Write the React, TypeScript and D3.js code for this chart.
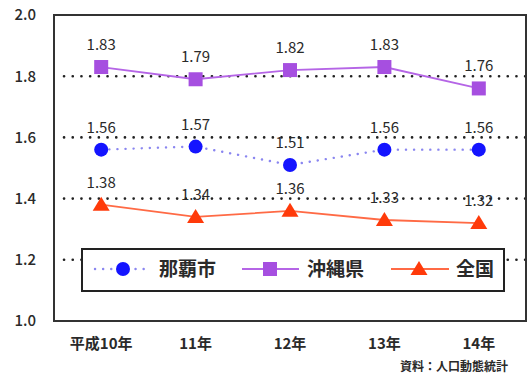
import React, { useRef, useEffect } from "react";
import * as d3 from "d3";

const years = ["平成10年", "11年", "12年", "13年", "14年"];
const naha = [1.56, 1.57, 1.51, 1.56, 1.56];
const okinawa = [1.83, 1.79, 1.82, 1.83, 1.76];
const zenkoku = [1.38, 1.34, 1.36, 1.33, 1.32];
const yTicks = [1.0, 1.2, 1.4, 1.6, 1.8, 2.0];
const gridValues = [1.2, 1.4, 1.6, 1.8];

const FONT = "'Noto Sans CJK JP', 'Noto Sans', sans-serif";
const TEXT = "#2a2a2a";

export default function App() {
  const ref = useRef<SVGSVGElement>(null);

  useEffect(() => {
    const svg = d3.select(ref.current);
    svg.selectAll("*").remove();

    const left = 54, right = 526, top = 15, bottom = 321;

    const x = d3.scalePoint<string>().domain(years).range([left, right]).padding(0.5);
    const y = d3.scaleLinear().domain([1.0, 2.0]).range([bottom, top]);

    // background
    svg.append("rect").attr("width", 528).attr("height", 376).attr("fill", "#fff");

    // gridlines (dotted)
    svg
      .selectAll("line.grid")
      .data(gridValues)
      .enter()
      .append("line")
      .attr("x1", left + 10)
      .attr("x2", right)
      .attr("y1", (d) => y(d))
      .attr("y2", (d) => y(d))
      .attr("stroke", "#222")
      .attr("stroke-width", 2.6)
      .attr("stroke-linecap", "round")
      .attr("stroke-dasharray", "0.1,8.6");

    // frame
    svg
      .append("rect")
      .attr("x", left)
      .attr("y", top)
      .attr("width", right - left)
      .attr("height", bottom - top)
      .attr("fill", "none")
      .attr("stroke", "#333")
      .attr("stroke-width", 2);

    // y labels
    svg
      .selectAll("text.ytick")
      .data(yTicks)
      .enter()
      .append("text")
      .attr("x", 36)
      .attr("y", (d) => y(d))
      .attr("dy", "0.36em")
      .attr("text-anchor", "end")
      .attr("font-family", FONT)
      .attr("font-size", 15)
      .attr("font-weight", 500)
      .attr("fill", TEXT)
      .text((d) => d.toFixed(1));

    // x labels
    svg
      .selectAll("text.xtick")
      .data(years)
      .enter()
      .append("text")
      .attr("x", (d) => x(d)!)
      .attr("y", 349)
      .attr("text-anchor", "middle")
      .attr("font-family", FONT)
      .attr("font-size", 15)
      .attr("font-weight", 700)
      .attr("fill", TEXT)
      .text((d) => d);

    svg
      .append("text")
      .attr("x", 508)
      .attr("y", 371)
      .attr("text-anchor", "end")
      .attr("font-family", FONT)
      .attr("font-size", 12)
      .attr("font-weight", 700)
      .attr("fill", TEXT)
      .text("資料：人口動態統計");

    const line = d3
      .line<number>()
      .x((_, i) => x(years[i])!)
      .y((d) => y(d));

    const series = [
      { name: "那覇市", values: naha, line: "#8a86f0", marker: "#1414ff", dash: "0.1,8", width: 2.4, shape: "circle" },
      { name: "沖縄県", values: okinawa, line: "#b565e6", marker: "#a64fe0", dash: null, width: 1.8, shape: "square" },
      { name: "全国", values: zenkoku, line: "#ff6a45", marker: "#ff3a0a", dash: null, width: 1.8, shape: "triangle" },
    ];

    const drawMarker = (g: any, shape: string, cx: number, cy: number, color: string) => {
      if (shape === "circle") {
        g.append("circle").attr("cx", cx).attr("cy", cy).attr("r", 7).attr("fill", color);
      } else if (shape === "square") {
        g.append("rect").attr("x", cx - 7).attr("y", cy - 7).attr("width", 14).attr("height", 14).attr("fill", color);
      } else {
        g.append("path")
          .attr("d", `M${cx},${cy - 8}L${cx + 8.5},${cy + 6}L${cx - 8.5},${cy + 6}Z`)
          .attr("fill", color);
      }
    };

    series.forEach((s) => {
      const g = svg.append("g");
      g.append("path")
        .attr("d", line(s.values))
        .attr("fill", "none")
        .attr("stroke", s.line)
        .attr("stroke-width", s.width)
        .attr("stroke-linecap", s.dash ? "round" : "butt")
        .attr("stroke-dasharray", s.dash);
      s.values.forEach((v, i) => {
        drawMarker(g, s.shape, x(years[i])!, y(v), s.marker);
        g.append("text")
          .attr("x", x(years[i])!)
          .attr("y", y(v) - 17)
          .attr("text-anchor", "middle")
          .attr("font-family", FONT)
          .attr("font-size", 15)
          .attr("font-weight", 400)
          .attr("fill", TEXT)
          .text(v.toFixed(2));
      });
    });

    // legend
    const lg = svg.append("g");
    lg.append("rect")
      .attr("x", 82)
      .attr("y", 249)
      .attr("width", 422)
      .attr("height", 42)
      .attr("fill", "#fff")
      .attr("stroke", "#222")
      .attr("stroke-width", 2);

    const ly = 269;
    const items = [
      { s: series[0], x1: 95, x2: 150, mx: 123, tx: 159 },
      { s: series[1], x1: 242, x2: 299, mx: 270, tx: 307 },
      { s: series[2], x1: 391, x2: 449, mx: 419, tx: 456 },
    ];
    items.forEach((it) => {
      lg.append("line")
        .attr("x1", it.x1)
        .attr("x2", it.x2)
        .attr("y1", ly)
        .attr("y2", ly)
        .attr("stroke", it.s.line)
        .attr("stroke-width", it.s.width)
        .attr("stroke-linecap", it.s.dash ? "round" : "butt")
        .attr("stroke-dasharray", it.s.dash);
      drawMarker(lg, it.s.shape, it.mx, ly, it.s.marker);
      lg.append("text")
        .attr("x", it.tx)
        .attr("y", ly)
        .attr("dy", "0.36em")
        .attr("font-family", FONT)
        .attr("font-size", 19)
        .attr("font-weight", 700)
        .attr("fill", TEXT)
        .text(it.s.name);
    });
  }, []);

  return (
    <svg
      ref={ref}
      width={528}
      height={376}
      style={{ position: "absolute", left: 0, top: 0 }}
    />
  );
}
